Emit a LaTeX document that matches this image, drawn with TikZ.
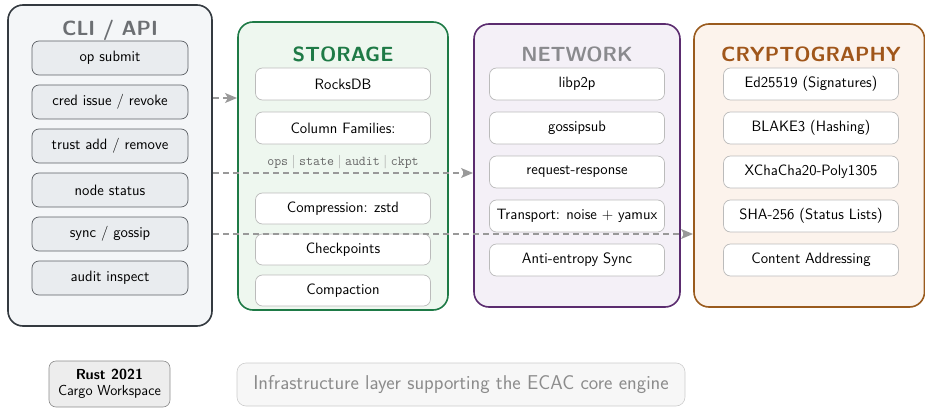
\documentclass[tikz,border=0pt]{standalone}
\usepackage{fontspec}
\usetikzlibrary{arrows.meta}
\definecolor{cliedge}{HTML}{343A40}
\definecolor{clifill}{HTML}{F4F6F8}
\definecolor{clibox}{HTML}{E9ECEF}
\definecolor{clititle}{HTML}{6C6F73}
\definecolor{stedge}{HTML}{1E7A46}
\definecolor{stfill}{HTML}{EEF7EF}
\definecolor{nwedge}{HTML}{5B2C6F}
\definecolor{nwfill}{HTML}{F4F0F7}
\definecolor{nwtitle}{HTML}{8A8A8E}
\definecolor{credge}{HTML}{9A5B1E}
\definecolor{crfill}{HTML}{FCF3EC}
\definecolor{crtitle}{HTML}{A0561A}
\definecolor{itemedge}{HTML}{BBBBBB}
\definecolor{flowgray}{HTML}{999999}
\tikzset{
  layer/.style={draw, line width=1.6pt, rounded corners=15pt},
  layertitle/.style={font=\sffamily\bfseries\fontsize{20.5}{24}\selectfont, anchor=center},
  clitem/.style={draw=cliedge!80, fill=clibox, line width=0.7pt, rounded corners=7pt,
    minimum width=156pt, minimum height=34pt, font=\sffamily\fontsize{15}{18}\selectfont},
  item/.style={draw=itemedge, fill=white, line width=0.7pt, rounded corners=7pt,
    minimum width=175pt, minimum height=32pt, font=\sffamily\fontsize{15}{18}\selectfont},
  flow/.style={draw=flowgray, line width=1.2pt, dash pattern=on 6pt off 4pt,
    -{Stealth[length=12pt,width=10pt,inset=3pt]}},
}
\newcommand{\cfsep}{\hspace{0.27em}{\color{black!40}\textsf{|}}\hspace{0.27em}}
\begin{document}
\begin{tikzpicture}[x=1pt,y=-1pt]
\useasboundingbox (0,0) rectangle (925,409);

% CLI / API column
\draw[layer, draw=cliedge, fill=clifill] (8,5) rectangle (212,326);
\node[layertitle, text=clititle] (clititle) at (110,30) {CLI / API};
\node[clitem] (c1) at (110,58) {op submit};
\node[clitem] (c2) at (110,102) {cred issue / revoke};
\node[clitem] (c3) at (110,146) {trust add / remove};
\node[clitem] (c4) at (110,190) {node status};
\node[clitem] (c5) at (110,234) {sync / gossip};
\node[clitem] (c6) at (110,278) {audit inspect};

% Storage column
\draw[layer, draw=stedge, fill=stfill] (238,22) rectangle (448,310);
\node[layertitle, text=stedge] (sttitle) at (343,54) {STORAGE};
\node[item] (s1) at (343,84) {RocksDB};
\node[item] (s2) at (343,128) {Column Families:};
\node[font=\fontsize{13.5}{16}\selectfont, text=black!60] (s2b) at (343,162)
  {\texttt{ops}\cfsep\texttt{state}\cfsep\texttt{audit}\cfsep\texttt{ckpt}};
\node[item, minimum height=31pt] (s3) at (343,208.5) {Compression: zstd};
\node[item, minimum height=31pt] (s4) at (343,249.5) {Checkpoints};
\node[item, minimum height=31pt] (s5) at (343,290.5) {Compaction};

% Network column
\draw[layer, draw=nwedge, fill=nwfill] (474,24) rectangle (680,307);
\node[layertitle, text=nwtitle] (nwtitle) at (577,54) {NETWORK};
\node[item] (n1) at (577,84) {libp2p};
\node[item] (n2) at (577,128) {gossipsub};
\node[item] (n3) at (577,172) {request-response};
\node[item] (n4) at (577,216) {Transport: noise + yamux};
\node[item] (n5) at (577,260) {Anti-entropy Sync};

% Cryptography column
\draw[layer, draw=credge, fill=crfill] (694,24) rectangle (924.5,307);
\node[layertitle, text=crtitle] (crtitle) at (811,54) {CRYPTOGRAPHY};
\node[item] (k1) at (811,84) {Ed25519 (Signatures)};
\node[item] (k2) at (811,128) {BLAKE3 (Hashing)};
\node[item] (k3) at (811,172) {XChaCha20-Poly1305};
\node[item] (k4) at (811,216) {SHA-256 (Status Lists)};
\node[item] (k5) at (811,260) {Content Addressing};

% Calls from the interface layer into the infrastructure
\coordinate (o1) at (213,98);  \coordinate (t1) at (237,98);
\coordinate (o2) at (213,173); \coordinate (t2) at (473,173);
\coordinate (o3) at (213,234); \coordinate (t3) at (693,234);
\draw[flow] (o1) -- (t1);
\draw[flow] (o2) -- (t2);
\draw[flow] (o3) -- (t3);

% Footer
\node[draw=black!45, fill=black!7, rounded corners=7pt, line width=0.6pt,
  minimum width=121pt, minimum height=46pt, align=center,
  font=\sffamily\fontsize{14.5}{16.5}\selectfont] (rust) at (109.5,384)
  {\textbf{Rust 2021}\\Cargo Workspace};
\node[draw=black!20, fill=black!3, rounded corners=9pt, line width=0.6pt,
  minimum width=448pt, minimum height=43pt, text=black!45,
  font=\sffamily\fontsize{20}{23}\selectfont] (note) at (461,384.5)
  {Infrastructure layer supporting the ECAC core engine};
\end{tikzpicture}
\end{document}
